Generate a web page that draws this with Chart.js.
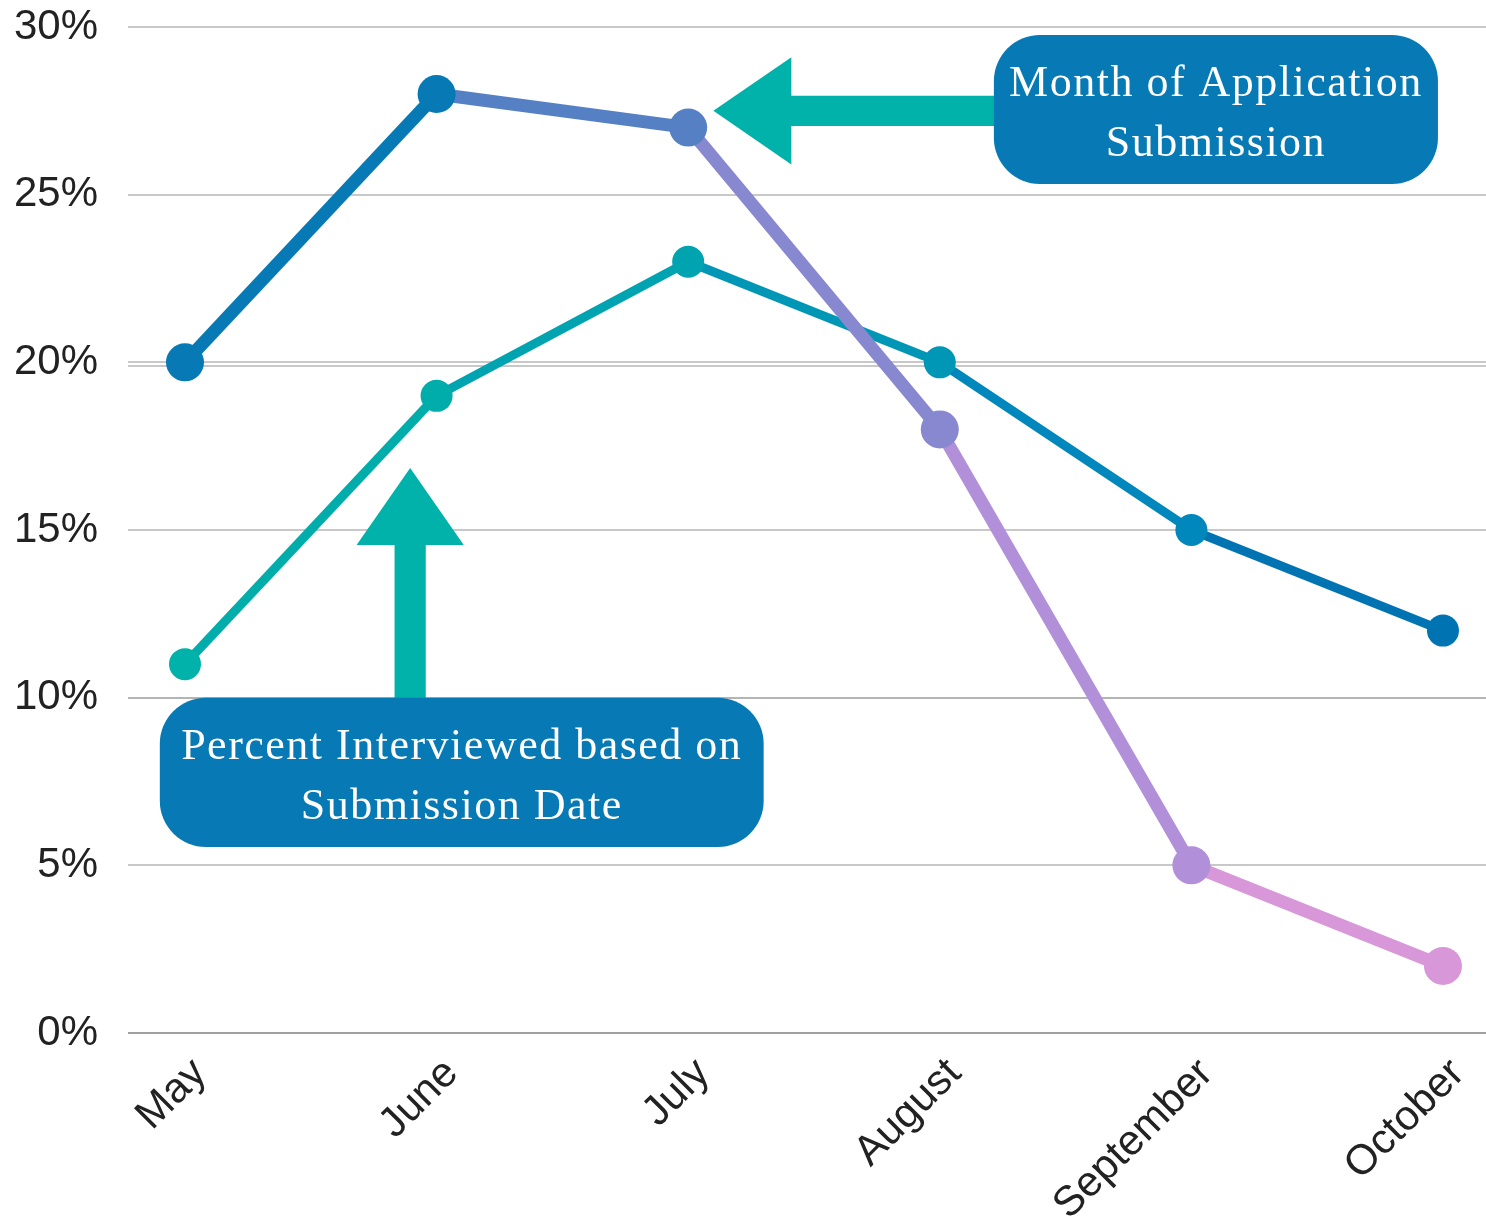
<!DOCTYPE html>
<html>
<head>
<meta charset="utf-8">
<title>Percent Interviewed by Month of Application</title>
<script src="https://cdn.jsdelivr.net/npm/chart.js@4.4.1/dist/chart.umd.min.js"></script>
<style>
  html, body { margin: 0; padding: 0; background: #fff; overflow: hidden; }
  #wrap { position: relative; width: 1486px; height: 1220px; overflow: hidden; }
  #wrap canvas { display: block; }
</style>
</head>
<body>
<div id="wrap"><canvas id="interviewChart"></canvas></div>
<script>
const months = ['May', 'June', 'July', 'August', 'September', 'October'];

// month of application submission
const submittedPct = [20, 28, 27, 18, 5, 2];
const submittedColors = ['#0779b4', '#0779b4', '#5580c4', '#8888d0', '#b28fd9', '#d897d9'];

// percent interviewed based on submission date
const interviewedPct = [11, 19, 23, 20, 15, 12];
const interviewedColors = ['#00b2a9', '#00adab', '#00a3b0', '#0096b6', '#0087bc', '#0074b3'];

const yTicks = [0, 5, 10, 15, 20, 25, 30];
const overlayTicks = [20];

const callouts = [
    { lines: ['Month of Application', 'Submission'], x0: 3.215, x1: 4.98, y0: 29.76, y1: 25.32 },
    { lines: ['Percent Interviewed based on', 'Submission Date'], x0: -0.1, x1: 2.3, y0: 10.0, y1: 5.55 }
];

const arrows = [
    // left pointing arrow towards July
    { dir: 'left', tipX: 2.1, tipY: 27.5, headBack: 2.41, headHalf: 1.6, tailX: 3.3, shaftHalf: 0.45 },
    // up pointing arrow under June
    { dir: 'up', tipX: 0.895, tipY: 16.85, headBack: 14.55, headHalf: 0.213, tailY: 9.9, shaftHalf: 0.062 }
];

const teal = '#00b2a9';
const boxBlue = '#0779b4';

const calloutPlugin = {
    id: 'calloutPlugin',
    afterDatasetsDraw(chart) {
        const c = chart.ctx;
        const xs = chart.scales.x;
        const ys = chart.scales.y;
        c.save();
        c.fillStyle = teal;
        arrows.forEach(a => {
            c.beginPath();
            const tx = xs.getPixelForValue(a.tipX), ty = ys.getPixelForValue(a.tipY);
            if (a.dir === 'left') {
                const hb = xs.getPixelForValue(a.headBack);
                const hh = Math.abs(ys.getPixelForValue(a.tipY + a.headHalf) - ty);
                const sh = Math.abs(ys.getPixelForValue(a.tipY + a.shaftHalf) - ty);
                const tail = xs.getPixelForValue(a.tailX);
                c.moveTo(tx, ty);
                c.lineTo(hb, ty - hh);
                c.lineTo(hb, ty - sh);
                c.lineTo(tail, ty - sh);
                c.lineTo(tail, ty + sh);
                c.lineTo(hb, ty + sh);
                c.lineTo(hb, ty + hh);
            } else {
                const hb = ys.getPixelForValue(a.headBack);
                const hh = Math.abs(xs.getPixelForValue(a.tipX + a.headHalf) - tx);
                const sh = Math.abs(xs.getPixelForValue(a.tipX + a.shaftHalf) - tx);
                const tail = ys.getPixelForValue(a.tailY);
                c.moveTo(tx, ty);
                c.lineTo(tx + hh, hb);
                c.lineTo(tx + sh, hb);
                c.lineTo(tx + sh, tail);
                c.lineTo(tx - sh, tail);
                c.lineTo(tx - sh, hb);
                c.lineTo(tx - hh, hb);
            }
            c.closePath();
            c.fill();
        });

        callouts.forEach(b => {
            const left = xs.getPixelForValue(b.x0);
            const right = xs.getPixelForValue(b.x1);
            const top = ys.getPixelForValue(b.y0);
            const bottom = ys.getPixelForValue(b.y1);
            c.fillStyle = boxBlue;
            c.beginPath();
            c.roundRect(left, top, right - left, bottom - top, 46);
            c.fill();
            c.fillStyle = '#ffffff';
            c.font = '44px "Liberation Serif", serif';
            if ('letterSpacing' in c) c.letterSpacing = '1.5px';
            c.textAlign = 'center';
            c.textBaseline = 'alphabetic';
            const cx = (left + right) / 2;
            const cy = (top + bottom) / 2;
            const lh = 60;
            b.lines.forEach((t, i) => {
                c.fillText(t, cx, cy + 17 + (i - (b.lines.length - 1) / 2) * lh);
            });
        });
        c.restore();
    }
};

function gridColor(ctx) {
    const v = ctx.tick && ctx.tick.value;
    if (v === 0) return '#a0a0a0';
    if (v === 10) return '#b4b4b4';
    return '#c8c8c8';
}

const tickFont = { family: '"Liberation Sans", Arial, sans-serif', size: 42 };

new Chart(document.getElementById('interviewChart'), {
    type: 'line',
    data: {
        datasets: [
            {
                label: 'Month of Application Submission',
                data: submittedPct.map((v, i) => ({ x: i, y: v })),
                borderWidth: 13,
                pointRadius: 19,
                pointHoverRadius: 19,
                pointBackgroundColor: submittedColors,
                pointBorderWidth: 0,
                segment: { borderColor: ctx => submittedColors[ctx.p1DataIndex] },
                borderColor: submittedColors[0],
                tension: 0
            },
            {
                label: 'Percent Interviewed based on Submission Date',
                data: interviewedPct.map((v, i) => ({ x: i, y: v })),
                borderWidth: 9,
                pointRadius: 16,
                pointHoverRadius: 16,
                pointBackgroundColor: interviewedColors,
                pointBorderWidth: 0,
                segment: { borderColor: ctx => interviewedColors[ctx.p1DataIndex] },
                borderColor: interviewedColors[0],
                tension: 0
            }
        ]
    },
    options: {
        responsive: true,
        maintainAspectRatio: false,
        animation: false,
        layout: { autoPadding: false, padding: { top: 27, right: 0, left: 0, bottom: 0 } },
        plugins: {
            legend: { display: false },
            tooltip: { enabled: false }
        },
        scales: {
            x: {
                type: 'linear',
                min: -0.2265,
                max: 5.171,
                afterBuildTicks: scale => { scale.ticks = months.map((_, i) => ({ value: i })); },
                afterFit: scale => {
                    scale.height = 187;
                    scale.paddingLeft = 0;
                    scale.paddingRight = 0;
                },
                grid: { display: false },
                border: { display: false },
                ticks: {
                    minRotation: 45,
                    maxRotation: 45,
                    padding: 8,
                    labelOffset: 15,
                    color: '#222',
                    font: tickFont,
                    callback: v => months[v]
                }
            },
            y: {
                min: 0,
                max: 30,
                afterBuildTicks: scale => { scale.ticks = yTicks.map(v => ({ value: v })); },
                afterFit: scale => {
                    scale.width = 128;
                    scale.paddingTop = 0;
                    scale.paddingBottom = 0;
                },
                grid: { color: gridColor, lineWidth: 2, drawTicks: false },
                border: { display: false },
                ticks: {
                    padding: 30,
                    color: '#222',
                    font: tickFont,
                    callback: v => v + '%'
                }
            },
            y2: {
                position: 'left',
                weight: -1,
                min: 0,
                max: 30.15,
                afterBuildTicks: scale => { scale.ticks = overlayTicks.map(v => ({ value: v })); },
                afterFit: scale => {
                    scale.width = 0;
                    scale.paddingTop = 0;
                    scale.paddingBottom = 0;
                },
                grid: { color: '#c8c8c8', lineWidth: 2, drawTicks: false },
                border: { display: false },
                ticks: {
                    padding: 29,
                    color: '#333',
                    font: tickFont,
                    callback: v => v + '%'
                }
            }
        }
    },
    plugins: [calloutPlugin]
});
</script>
</body>
</html>
